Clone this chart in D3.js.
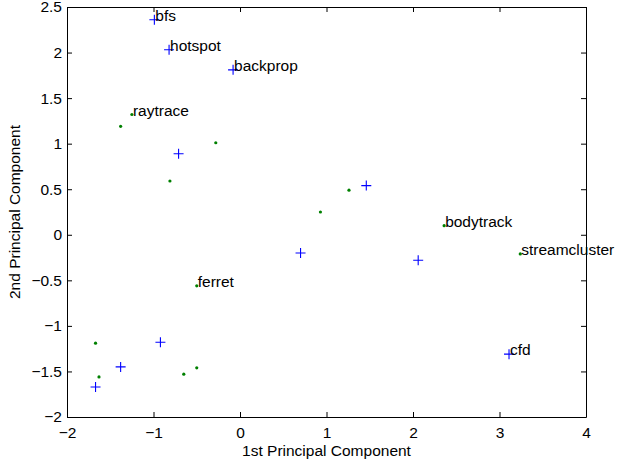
<!DOCTYPE html>
<html>
<head>
<meta charset="utf-8">
<script src="https://cdn.jsdelivr.net/npm/d3@7"></script>
<style>
  body { margin: 0; background: #fff; }
  svg { display: block; font-family: "Liberation Sans", Arial, Helvetica, sans-serif; }
</style>
</head>
<body>
<script>
//============PCA scatter=========//
// blue "+" series
var plusX = [-0.99, -0.82, -0.08, -0.71, 1.46, 0.70, 2.06, 3.11, -0.92, -1.38, -1.67],
  plusY = [2.36, 2.03, 1.81, 0.89, 0.54, -0.20, -0.28, -1.31, -1.18, -1.45, -1.67],
  plusLabel = ['bfs', 'hotspot', 'backprop', '', '', '', '', 'cfd', '', '', ''];

// green "." series
var dotX = [-1.25, -1.38, -0.28, -0.81, 1.26, 0.93, 2.36, 3.24, -0.50, -1.67, -1.63, -0.65, -0.50],
  dotY = [1.32, 1.19, 1.01, 0.59, 0.49, 0.25, 0.10, -0.21, -0.56, -1.19, -1.56, -1.53, -1.46],
  dotLabel = ['raytrace', '', '', '', '', '', 'bodytrack', 'streamcluster', 'ferret', '', '', '', ''];

var xTicks = [-2, -1, 0, 1, 2, 3, 4],
  yTicks = [-2, -1.5, -1, -0.5, 0, 0.5, 1, 1.5, 2, 2.5];

//plot box (pixels)
var width = 617, height = 464,
  boxLeft = 67, boxRight = 586, boxTop = 7, boxBottom = 417,
  fontSize = 15.5;

var x = d3.scaleLinear().domain([-2, 4]).range([boxLeft, boxRight]);
var y = d3.scaleLinear().domain([-2, 2.5]).range([boxBottom, boxTop]);
var fmt = d3.format('');

var svg = d3.select('body').append('svg')
  .attr('width', width)
  .attr('height', height);

var plusPts = plusX.map(function(d, i) { return {x: d, y: plusY[i], label: plusLabel[i]}; });
var dotPts = dotX.map(function(d, i) { return {x: d, y: dotY[i], label: dotLabel[i]}; });

//green dots
svg.append('g').selectAll('circle')
  .data(dotPts)
  .enter().append('circle')
  .attr('cx', function(d) { return x(d.x); })
  .attr('cy', function(d) { return y(d.y); })
  .attr('r', 1.6)
  .style('fill', '#008000');

//blue plus markers
var arm = 5;
svg.append('g').selectAll('path')
  .data(plusPts)
  .enter().append('path')
  .attr('d', function(d) {
    var px = x(d.x), py = y(d.y);
    return 'M' + (px - arm) + ',' + py + 'H' + (px + arm) +
      'M' + px + ',' + (py - arm) + 'V' + (py + arm);
  })
  .style('stroke', '#0000ff')
  .style('stroke-width', 1.1)
  .style('fill', 'none');

//labels
var labelled = plusPts.concat(dotPts).filter(function(d) { return d.label !== ''; });
svg.append('g').selectAll('text')
  .data(labelled)
  .enter().append('text')
  .attr('x', function(d) { return x(d.x) + 1; })
  .attr('y', function(d) { return y(d.y) + 1; })
  .style('font-size', fontSize + 'px')
  .style('fill', '#000')
  .text(function(d) { return d.label; });

//axes (box with inward ticks)
function styleAxis(g) {
  g.selectAll('path, line').style('stroke', '#000');
  g.selectAll('text').style('font-size', fontSize + 'px').style('fill', '#000')
    .style('font-family', '"Liberation Sans", Arial, Helvetica, sans-serif');
}

svg.append('g')
  .attr('transform', 'translate(0,' + boxBottom + ')')
  .call(d3.axisBottom(x).tickValues(xTicks).tickFormat(fmt).tickSize(-5).tickSizeOuter(0).tickPadding(10))
  .call(styleAxis);

svg.append('g')
  .attr('transform', 'translate(0,' + boxTop + ')')
  .call(d3.axisTop(x).tickValues(xTicks).tickSize(-5).tickSizeOuter(0).tickFormat(''))
  .call(styleAxis);

svg.append('g')
  .attr('transform', 'translate(' + boxLeft + ',0)')
  .call(d3.axisLeft(y).tickValues(yTicks).tickFormat(fmt).tickSize(-5).tickSizeOuter(0).tickPadding(5))
  .call(styleAxis);

svg.append('g')
  .attr('transform', 'translate(' + boxRight + ',0)')
  .call(d3.axisRight(y).tickValues(yTicks).tickSize(-5).tickSizeOuter(0).tickFormat(''))
  .call(styleAxis);

//axis titles
svg.append('text')
  .attr('x', (boxLeft + boxRight) / 2)
  .attr('y', 456)
  .attr('text-anchor', 'middle')
  .style('font-size', fontSize + 'px')
  .text('1st Principal Component');

svg.append('text')
  .attr('transform', 'translate(20,' + (boxTop + boxBottom) / 2 + ') rotate(-90)')
  .attr('text-anchor', 'middle')
  .style('font-size', fontSize + 'px')
  .text('2nd Principal Component');
</script>
</body>
</html>
